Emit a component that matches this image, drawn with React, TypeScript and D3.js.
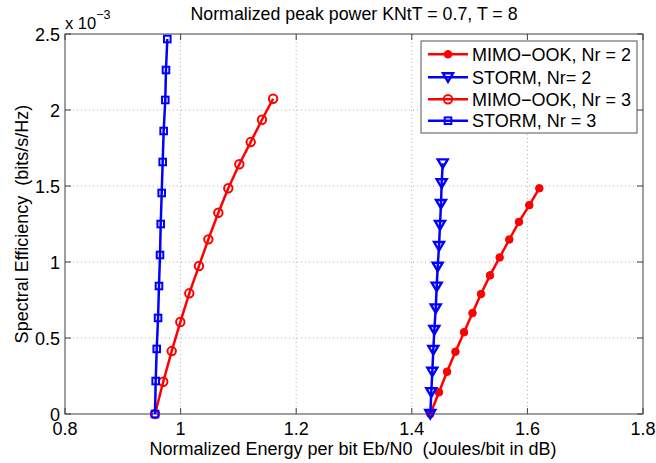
import React from "react";
import * as d3 from "d3";

// Data (x: Eb/N0 normalized, y: spectral efficiency in units of 1e-3)
const ookNr2X = [1.432, 1.447, 1.461, 1.4755, 1.4904, 1.505, 1.5197, 1.5353, 1.552, 1.5687, 1.5855, 1.6033, 1.6206];
const ookNr2Y = [0, 0.143, 0.278, 0.41, 0.538, 0.664, 0.789, 0.912, 1.03, 1.148, 1.264, 1.374, 1.485];

const stormNr2X = [1.432, 1.4337, 1.4355, 1.4372, 1.439, 1.4414, 1.4431, 1.4448, 1.4471, 1.4488, 1.4505, 1.4517, 1.4535];
const stormNr2Y = [0, 0.143, 0.278, 0.421, 0.553, 0.695, 0.838, 0.969, 1.105, 1.243, 1.382, 1.518, 1.649];

const ookNr3X = [0.9557, 0.97, 0.9846, 0.9995, 1.015, 1.0318, 1.048, 1.0653, 1.0825, 1.1016, 1.1213, 1.1408, 1.16];
const ookNr3Y = [0, 0.212, 0.414, 0.605, 0.794, 0.974, 1.149, 1.324, 1.485, 1.643, 1.789, 1.936, 2.074];

const stormNr3X = [0.9557, 0.9569, 0.9587, 0.961, 0.9626, 0.9644, 0.9656, 0.9673, 0.969, 0.9707, 0.9735, 0.9747, 0.977];
const stormNr3Y = [0, 0.217, 0.428, 0.632, 0.842, 1.046, 1.25, 1.454, 1.658, 1.862, 2.066, 2.263, 2.467];

const xTicks = [0.8, 1, 1.2, 1.4, 1.6, 1.8];
const yTicks = [0, 0.5, 1, 1.5, 2, 2.5];

const seriesNames = ["MIMO\u2212OOK, Nr = 2", "STORM, Nr= 2", "MIMO\u2212OOK, Nr = 3", "STORM, Nr = 3"];

const RED = "#ff0000";
const BLUE = "#0000ff";
const FONT = "'Liberation Sans', Arial, Helvetica, sans-serif";

type Marker = "dot" | "tri" | "circle" | "square";

const series: { name: string; xs: number[]; ys: number[]; color: string; marker: Marker }[] = [
  { name: seriesNames[0], xs: ookNr2X, ys: ookNr2Y, color: RED, marker: "dot" },
  { name: seriesNames[1], xs: stormNr2X, ys: stormNr2Y, color: BLUE, marker: "tri" },
  { name: seriesNames[2], xs: ookNr3X, ys: ookNr3Y, color: RED, marker: "circle" },
  { name: seriesNames[3], xs: stormNr3X, ys: stormNr3Y, color: BLUE, marker: "square" },
];

function MarkerShape({ kind, x, y, color }: { kind: Marker; x: number; y: number; color: string }) {
  if (kind === "dot") return <circle cx={x} cy={y} r={3.8} fill={color} stroke={color} strokeWidth={1} />;
  if (kind === "circle") return <circle cx={x} cy={y} r={4.2} fill="none" stroke={color} strokeWidth={2} />;
  if (kind === "square") return <rect x={x - 3.3} y={y - 3.3} width={6.6} height={6.6} fill="none" stroke={color} strokeWidth={2} />;
  const s = 5;
  return (
    <path
      d={`M${x - s},${y - s * 0.8} L${x + s},${y - s * 0.8} L${x},${y + s * 0.9} Z`}
      fill="none"
      stroke={color}
      strokeWidth={2.4}
      strokeLinejoin="miter"
    />
  );
}

export default function App() {
  const W = 656, H = 463;
  const L = 65, R = 643, T = 34, B = 414;
  const x = d3.scaleLinear().domain([0.8, 1.8]).range([L, R]);
  const y = d3.scaleLinear().domain([0, 2.5]).range([B, T]);
  const line = d3.line<[number, number]>().x(d => x(d[0])).y(d => y(d[1]));
  const axisColor = "#404040";
  const tickLen = 6;

  const lgX = 421, lgY = 41, lgW = 216, lgH = 92;
  const lgRows = [54.3, 77.3, 99.3, 120.7];

  return (
    <svg width={W} height={H} style={{ position: "absolute", left: 0, top: 0, background: "#fff" }} fontFamily={FONT}>
      <rect x={0} y={0} width={W} height={H} fill="#fff" />
      {/* grid */}
      {xTicks.slice(1, -1).map(t => (
        <line key={"gx" + t} x1={x(t)} x2={x(t)} y1={T} y2={B} stroke="#b0b0b0" strokeWidth={1} strokeDasharray="1,3" />
      ))}
      {yTicks.slice(1, -1).map(t => (
        <line key={"gy" + t} x1={L} x2={R} y1={y(t)} y2={y(t)} stroke="#b0b0b0" strokeWidth={1} strokeDasharray="1,3" />
      ))}
      {/* ticks */}
      {xTicks.map(t => (
        <g key={"tx" + t}>
          <line x1={x(t)} x2={x(t)} y1={B} y2={B - tickLen} stroke={axisColor} />
          <line x1={x(t)} x2={x(t)} y1={T} y2={T + tickLen} stroke={axisColor} />
          <text x={x(t)} y={435} fontSize={18} textAnchor="middle" fill="#000">{String(t)}</text>
        </g>
      ))}
      {yTicks.map(t => (
        <g key={"ty" + t}>
          <line x1={L} x2={L + tickLen} y1={y(t)} y2={y(t)} stroke={axisColor} />
          <line x1={R} x2={R - tickLen} y1={y(t)} y2={y(t)} stroke={axisColor} />
          <text x={60} y={y(t) + 7} fontSize={18} textAnchor="end" fill="#000">{String(t)}</text>
        </g>
      ))}
      {/* box */}
      <rect x={L} y={T} width={R - L} height={B - T} fill="none" stroke={axisColor} strokeWidth={1} />
      {/* series */}
      {series.map(s => {
        const pts = s.xs.map((v, i) => [v, s.ys[i]] as [number, number]);
        return (
          <g key={s.name}>
            <path d={line(pts) || ""} fill="none" stroke={s.color} strokeWidth={2.5} strokeLinejoin="round" />
            {pts.map((p, i) => (
              <MarkerShape key={i} kind={s.marker} x={x(p[0])} y={y(p[1])} color={s.color} />
            ))}
          </g>
        );
      })}
      {/* legend */}
      <rect x={lgX} y={lgY} width={lgW} height={lgH} fill="#fff" stroke="#555" strokeWidth={1} />
      {series.map((s, i) => (
        <g key={"lg" + i}>
          <line x1={428} x2={468} y1={lgRows[i]} y2={lgRows[i]} stroke={s.color} strokeWidth={2.5} />
          <MarkerShape kind={s.marker} x={448} y={lgRows[i]} color={s.color} />
          <text x={472} y={lgRows[i] + 6.3} fontSize={18} fill="#000">{s.name}</text>
        </g>
      ))}
      {/* title */}
      <text x={(L + R) / 2} y={20} fontSize={17.8} textAnchor="middle" fill="#000">Normalized peak power KNtT = 0.7, T = 8</text>
      {/* exponent */}
      <text x={65} y={28.5} fontSize={16.5} fill="#000">
        x 10<tspan dy={-10} fontSize={12.5}>{"\u22123"}</tspan>
      </text>
      {/* axis labels */}
      <text x={(L + R) / 2 - 1} y={455} fontSize={18} textAnchor="middle" fill="#000" style={{ whiteSpace: "pre" }}>Normalized Energy per bit Eb/N0  (Joules/bit in dB)</text>
      <text transform={`translate(28,${(T + B) / 2}) rotate(-90)`} fontSize={18} textAnchor="middle" fill="#000" style={{ whiteSpace: "pre" }}>Spectral Efficiency  (bits/s/Hz)</text>
    </svg>
  );
}
